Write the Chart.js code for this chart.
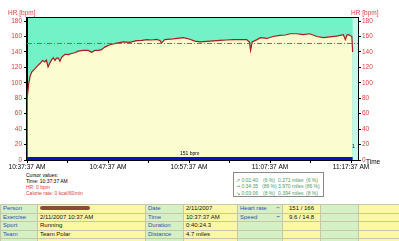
<!DOCTYPE html>
<html>
<head>
<meta charset="utf-8">
<script src="https://cdn.jsdelivr.net/npm/chart.js@4.4.0/dist/chart.umd.min.js"></script>
<style>
  body { margin: 0; width: 399px; height: 241px; overflow: hidden; background: #fff; position: relative;
         font-family: "Liberation Sans", Arial, sans-serif; }
  #hr { position: absolute; left: 0; top: 0; }
  .cv { position: absolute; left: 26px; font-size: 5px; line-height: 6px; white-space: nowrap; }
  .red { color: #e03c3c; }
  #box { position: absolute; left: 233px; top: 172px; width: 89px; height: 23px; border: 1px solid #8a8a8a; background: #fff; }
  #box span { position: absolute; font-size: 5px; line-height: 6px; color: #4f9a5f; white-space: nowrap; }
  table { position: absolute; left: 0; top: 204px; width: 399px; border-collapse: collapse; table-layout: fixed; }
  td { height: 7.5px; padding: 0 2px; font-size: 6px; line-height: 7.5px; border: 1px solid #c6c6a8; white-space: nowrap; overflow: hidden; }
  td.g { background: #d6f0c6; color: #2f4fb0; }
  td.y { background: #fbf7a8; color: #111; }
  td.c { text-align: center; }
  .dash { float: right; font-weight: bold; }
  .blob { display: inline-block; width: 50px; height: 4px; border-radius: 3px; background: #8e4a3a; vertical-align: middle; }
</style>
</head>
<body>
<canvas id="hr" width="399" height="172"></canvas>

<div class="cv" style="top:171.5px">Cursor values:</div>
<div class="cv" style="top:177.5px">Time: 10:37:37 AM</div>
<div class="cv red" style="top:183.5px">HR: 0 bpm</div>
<div class="cv red" style="top:189.5px">Calorie rate: 0 kcal/60min</div>

<div id="box">
  <span style="left:2px;top:3.5px">↗ 0:02:40</span><span style="left:29px;top:3.5px">(6 %)</span><span style="left:44px;top:3.5px">0.271 miles</span><span style="left:72px;top:3.5px">(6 %)</span>
  <span style="left:2px;top:10px">⇒ 0:34:35</span><span style="left:28px;top:10px">(86 %)</span><span style="left:44px;top:10px">3.970 miles</span><span style="left:71px;top:10px">(86 %)</span>
  <span style="left:2px;top:16.5px">↘ 0:03:06</span><span style="left:29px;top:16.5px">(8 %)</span><span style="left:44px;top:16.5px">0.394 miles</span><span style="left:72px;top:16.5px">(8 %)</span>
</div>

<table>
  <colgroup><col style="width:37px"><col style="width:108px"><col style="width:38px"><col style="width:54px"><col style="width:45px"><col style="width:38px"><col style="width:38px"><col style="width:41px"></colgroup>
  <tr><td class="g">Person</td><td class="y"><span class="blob"></span></td><td class="g">Date</td><td class="y">2/11/2007</td><td class="g">Heart rate<span class="dash" style="color:#e03c3c">−</span></td><td class="y c">151 / 166</td><td class="g"></td><td class="y"></td></tr>
  <tr><td class="g">Exercise</td><td class="y">2/11/2007 10:37 AM</td><td class="g">Time</td><td class="y">10:37:37 AM</td><td class="g">Speed<span class="dash" style="color:#2040d0">−</span></td><td class="y c">9.6 / 14.8</td><td class="g"></td><td class="y"></td></tr>
  <tr><td class="g">Sport</td><td class="y">Running</td><td class="g">Duration</td><td class="y">0:40:24.3</td><td class="g"></td><td class="y"></td><td class="g"></td><td class="y"></td></tr>
  <tr><td class="g">Team</td><td class="y">Team Polar</td><td class="g">Distance</td><td class="y">4.7 miles</td><td class="g"></td><td class="y"></td><td class="g"></td><td class="y"></td></tr>
  <tr><td class="g"></td><td class="y"></td><td class="g"></td><td class="y"></td><td class="g"></td><td class="y"></td><td class="g"></td><td class="y"></td></tr>
</table>

<script>
// Heart rate curve, minutes since 10:37:37 AM
let hrMinutes = [0, 0.02, 0.2, 0.37, 0.58, 0.99, 1.3, 1.6, 1.93, 2.2, 2.4, 2.6, 2.84, 3.05, 3.25, 3.46, 3.65, 3.87, 4.07, 4.28,
  4.69, 5.1, 5.5, 5.9, 6.3, 6.95, 7.57, 7.98, 8.4, 8.8, 9.2, 9.6, 10.25, 11.07, 11.9, 12.7, 13.5, 14.2, 14.8, 15.4,
  16, 16.4, 16.6, 17, 18.06, 19.3, 20.1, 20.7, 21.4, 22.6, 23.8, 24.6, 25.5, 26.4, 27.1, 27.45, 27.6, 27.8, 28.4, 28.8,
  29.6, 30.4, 31.2, 31.9, 32.5, 33.3, 34.1, 34.9, 35.8, 36.6, 37.4, 38.2, 39.05, 39.3, 39.5, 39.7, 40.1, 40.2];
let hrBpm = [0, 80, 98, 108, 114, 118.5, 122, 125, 129, 127, 129.5, 120.5, 126, 130, 132.5, 129, 132, 132, 128, 133,
  137, 136.5, 138, 139, 141, 142, 142, 139.5, 142, 142, 143, 146.3, 149.3, 151.5, 153, 152.5, 154.6, 155, 156, 155.5,
  156.3, 155, 151.5, 156, 157, 158.5, 156.5, 154, 153, 154, 155, 155.5, 156, 156, 156, 153, 142, 153, 156, 158.5,
  157.5, 160, 161.5, 162, 163.6, 163.6, 162.5, 163.6, 160, 158.5, 159.5, 160.5, 162.3, 156, 162, 162.3, 160, 140];

let avgHr = 151;
let zoneMinutes = [0, 40.2];
let zoneLevel = [2, 2];
let timeLabels = ["10:37:37 AM", "10:47:37 AM", "10:57:37 AM", "11:07:37 AM", "11:17:37 AM"];
let endMinute = 40.86;

const red = "#e03c3c";
const font = { family: "Liberation Sans", size: 6.5 };

let decor = {
  id: "decor",
  beforeDraw(chart) {
    let c = chart.ctx, a = chart.chartArea;
    c.save();
    c.fillStyle = "#72f2c6";
    c.fillRect(a.left, a.top, a.right - a.left, a.bottom - a.top);
    let xe = chart.scales.x.getPixelForValue(hrMinutes[hrMinutes.length - 1]);
    c.fillStyle = "#c8f6ea";
    c.fillRect(xe, a.top, a.right - xe, a.bottom - a.top);
    c.restore();
  },
  afterDraw(chart) {
    let c = chart.ctx, a = chart.chartArea;
    c.save();
    c.strokeStyle = "#000";
    c.lineWidth = 1;
    c.strokeRect(a.left - 0.5, a.top - 0.5, a.right - a.left + 1, a.bottom - a.top + 1);
    c.font = "6.5px 'Liberation Sans'";
    c.textBaseline = "middle";
    c.fillStyle = red;
    c.fillText("HR [bpm]", 8, 13);
    c.fillText("HR [bpm]", 351, 13);
    c.fillStyle = "#000";
    c.fillText("Time", 366, 162);
    c.font = "5px 'Liberation Sans'";
    c.fillText("151 bpm", 180, 154);
    c.fillText("1", 352, 147);
    c.restore();
  }
};

let ctx = document.getElementById("hr").getContext("2d");
let HeartRate = new Chart(ctx, {
  type: "line",
  data: {
    datasets: [
      {
        label: "Zone",
        data: zoneMinutes.map((m, i) => ({ x: m, y: zoneLevel[i] })),
        borderColor: "#0814c4",
        borderWidth: 3,
        pointRadius: 0,
        fill: false,
        order: 0,
      },
      {
        label: "Average",
        data: [{ x: 0, y: avgHr }, { x: endMinute, y: avgHr }],
        borderColor: "#cc4a4a",
        borderWidth: 1,
        borderDash: [5, 2, 1, 2],
        pointRadius: 0,
        fill: false,
        order: 1,
      },
      {
        label: "HR",
        data: hrMinutes.map((m, i) => ({ x: m, y: hrBpm[i] })),
        borderColor: "#a81c1c",
        backgroundColor: "#fbfcd0",
        borderWidth: 1.2,
        pointRadius: 0,
        fill: "origin",
        tension: 0,
        order: 2,
      },
    ],
  },
  options: {
    responsive: false,
    animation: false,
    devicePixelRatio: 1,
    layout: { padding: { top: 18, left: 0, right: 0, bottom: 0 } },
    plugins: { legend: { display: false }, tooltip: { enabled: false } },
    scales: {
      x: {
        type: "linear",
        min: 0,
        max: endMinute,
        afterFit(s) { s.height = 12; },
        border: { display: true, color: "#000" },
        grid: { drawOnChartArea: false, tickLength: 3, color: "#000" },
        ticks: {
          stepSize: 5,
          includeBounds: false,
          autoSkip: false,
          maxRotation: 0,
          padding: 0,
          color: "#000",
          font: font,
          callback: (v) => (v % 10 === 0 ? timeLabels[v / 10] : ""),
        },
      },
      y: {
        position: "left",
        min: 0,
        max: 184,
        afterFit(s) { s.width = 27; },
        border: { display: true, color: "#000" },
        grid: { drawOnChartArea: false, tickLength: 3, color: "#000" },
        ticks: { stepSize: 10, includeBounds: false, padding: 2, color: red, font: font,
          callback: (v) => (v % 20 === 0 ? v : "") },
      },
      y2: {
        position: "right",
        min: 0,
        max: 184,
        afterFit(s) { s.width = 41; },
        border: { display: true, color: "#000" },
        grid: { drawOnChartArea: false, tickLength: 3, color: "#000" },
        ticks: { stepSize: 10, includeBounds: false, padding: 1, color: red, font: font,
          callback: (v) => (v % 20 === 0 ? v : "") },
      },
    },
  },
  plugins: [decor],
});
</script>
</body>
</html>
